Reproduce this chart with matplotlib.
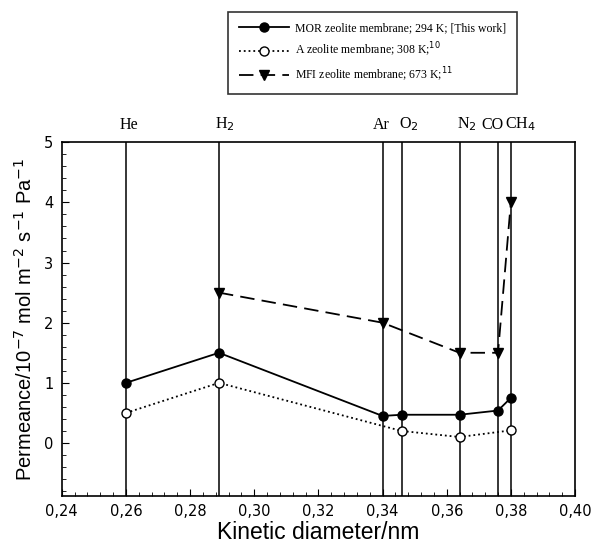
import matplotlib.pyplot as plt
from matplotlib.ticker import MultipleLocator, FuncFormatter

# kinetic diameters of the gases (nm)
gases = ['He', 'H$_2$', 'Ar', 'O$_2$', 'N$_2$', 'CO', 'CH$_4$']
diam = [0.260, 0.289, 0.340, 0.346, 0.364, 0.376, 0.380]

# permeances, 1e-7 mol m-2 s-1 Pa-1
mor_x = [0.260, 0.289, 0.340, 0.346, 0.364, 0.376, 0.380]
mor_y = [1.0, 1.5, 0.45, 0.47, 0.47, 0.54, 0.75]

a_x = [0.260, 0.289, 0.346, 0.364, 0.380]
a_y = [0.5, 1.0, 0.2, 0.1, 0.21]

mfi_x = [0.289, 0.340, 0.364, 0.376, 0.380]
mfi_y = [2.5, 2.0, 1.5, 1.5, 4.0]

# little horizontal nudges (points) so the gas names do not overlap
label_dx = [2, 4, -1, 5, 5, -4, 7]

fig = plt.figure(figsize=(5.94, 5.45), dpi=100)
ax = fig.add_axes([0.104, 0.090, 0.864, 0.649])

for x in diam:
    ax.axvline(x, color='black', lw=1.1)

ax.plot(mor_x, mor_y, '-', color='black', lw=1.3, marker='o', ms=6.5,
        mfc='black', label='MOR zeolite membrane; 294 K; [This work]')
ax.plot(a_x, a_y, ':', color='black', lw=1.3, marker='o', ms=6.5,
        mfc='white', label='A zeolite membrane; 308 K;$^{10}$')
ax.plot(mfi_x, mfi_y, color='black', lw=1.3, dashes=(8, 4), marker='v', ms=7,
        mfc='black', label='MFI zeolite membrane; 673 K;$^{11}$')

for x, g, dx in zip(diam, gases, label_dx):
    ax.annotate(g, xy=(x, 1), xycoords=('data', 'axes fraction'),
                xytext=(dx, 7), textcoords='offset points', ha='center',
                va='bottom', family='Liberation Serif', fontsize=11.5)

ax.set_xlim(0.24, 0.40)
ax.set_ylim(-0.88, 5)
ax.xaxis.set_major_locator(MultipleLocator(0.02))
ax.xaxis.set_minor_locator(MultipleLocator(0.004))
ax.yaxis.set_major_locator(MultipleLocator(1))
ax.yaxis.set_minor_locator(MultipleLocator(0.2))
ax.xaxis.set_major_formatter(FuncFormatter(lambda v, p: f'{v:.2f}'.replace('.', ',')))
ax.tick_params(which='both', direction='in', top=False, right=False,
               labelsize=10.5, pad=6)
ax.tick_params(which='major', length=5)
ax.tick_params(which='minor', length=3)
for s in ax.spines.values():
    s.set_linewidth(1.2)

ax.set_xlabel('Kinetic diameter/nm', fontsize=16.5, family='Liberation Sans', labelpad=1)
ax.set_ylabel('Permeance/10$^{-7}$ mol m$^{-2}$ s$^{-1}$ Pa$^{-1}$', fontsize=14.5,
              family='Liberation Sans', labelpad=6)

leg = fig.legend(loc='upper center', bbox_to_anchor=(0.627, 0.978),
                 prop={'family': 'Liberation Serif', 'size': 8.5},
                 frameon=True, fancybox=False, edgecolor='black',
                 handlelength=4.3, handletextpad=0.5, borderpad=0.9,
                 labelspacing=0.55, borderaxespad=0)
leg.get_frame().set_linewidth(1.2)

fig.savefig('out.png', dpi=100)
